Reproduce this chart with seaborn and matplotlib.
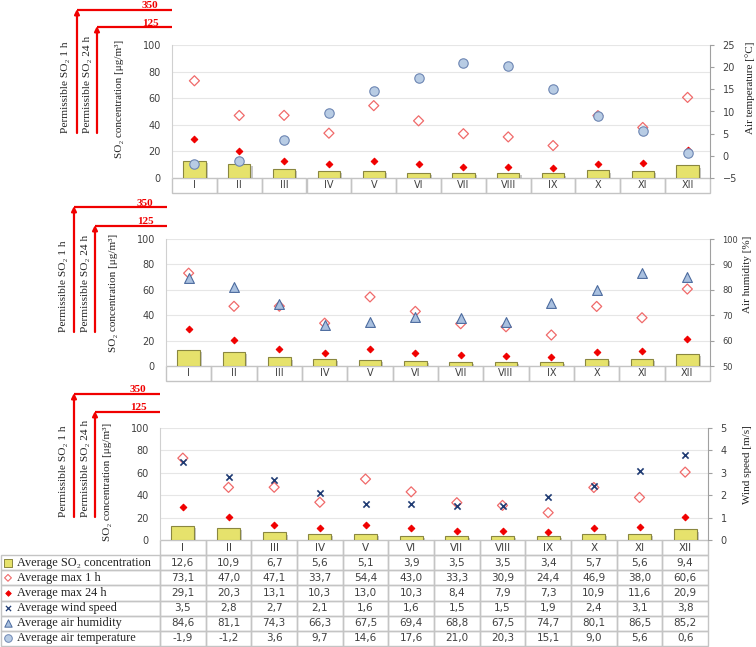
import numpy as np
import pandas as pd
import matplotlib.pyplot as plt
import matplotlib.patheffects as pe
from matplotlib.table import Table
import seaborn as sns

# monthly data
months = ['I', 'II', 'III', 'IV', 'V', 'VI', 'VII', 'VIII', 'IX', 'X', 'XI', 'XII']
so2_avg = [12.6, 10.9, 6.7, 5.6, 5.1, 3.9, 3.5, 3.5, 3.4, 5.7, 5.6, 9.4]
max_1h = [73.1, 47.0, 47.1, 33.7, 54.4, 43.0, 33.3, 30.9, 24.4, 46.9, 38.0, 60.6]
max_24h = [29.1, 20.3, 13.1, 10.3, 13.0, 10.3, 8.4, 7.9, 7.3, 10.9, 11.6, 20.9]
wind = [3.5, 2.8, 2.7, 2.1, 1.6, 1.6, 1.5, 1.5, 1.9, 2.4, 3.1, 3.8]
humidity = [84.6, 81.1, 74.3, 66.3, 67.5, 69.4, 68.8, 67.5, 74.7, 80.1, 86.5, 85.2]
temperature = [-1.9, -1.2, 3.6, 9.7, 14.6, 17.6, 21.0, 20.3, 15.1, 9.0, 5.6, 0.6]
limit_1h = 350
limit_24h = 125

row_labels = ['Average SO\u2082 concentration', 'Average max 1 h', 'Average max 24 h',
              'Average wind speed', 'Average air humidity', 'Average air temperature']

sns.set_style('white')
SERIF = ['Liberation Serif', 'DejaVu Serif']
SANS = ['DejaVu Sans']
plt.rcParams['font.family'] = SANS

BAR = '#e6e26c'
BAR_EDGE = '#8a8740'
RED = '#f00000'
RED_LIGHT = '#f06a6a'
BLUE_FACE = '#b8cce4'
BLUE_EDGE = '#6d86b3'
TRI_FACE = '#a9c0df'
TRI_EDGE = '#4c6b9f'
NAVY = '#1f3b73'
CELL = '#c4c4c4'
TXT = '#404040'
DARK = '#222222'

W, H = 756, 647
fig = plt.figure(figsize=(W / 100, H / 100), dpi=100)


def px_axes(l, t, r, b):
    return fig.add_axes([l / W, 1 - b / H, (r - l) / W, (b - t) / H])


met_styles = {
    'temp': dict(marker='o', s=46, color=BLUE_FACE, edgecolor=BLUE_EDGE, linewidth=0.8),
    'hum': dict(marker='^', s=50, color=TRI_FACE, edgecolor=TRI_EDGE, linewidth=0.8),
    'wind': dict(marker='x', s=20, color=NAVY, linewidth=1.2),
}

panels = [
    dict(box=(172, 45, 710, 178), met=temperature, lim=(-5, 25), ticks=range(-5, 26, 5),
         label='Air temperature [\u00b0C]', style='temp', rlx=750, rfs=7,
         arr=(77, 97, 10, 27, 133, 172), txt=(65, 87)),
    dict(box=(166, 239, 710, 366), met=humidity, lim=(50, 100), ticks=range(50, 101, 10),
         label='Air humidity [%]', style='hum', rlx=747, rfs=6,
         arr=(74, 95, 207, 226, 332, 167), txt=(63, 86)),
    dict(box=(160, 428, 708, 540), met=wind, lim=(0, 5), ticks=range(0, 6),
         label='Wind speed [m/s]', style='wind', rlx=747, rfs=7,
         arr=(74, 95, 394, 412, 517, 160), txt=(63, 85)),
]

pos = np.arange(len(months))
axes = []
for p in panels:
    l, t, r, b = p['box']
    ax = px_axes(l, t, r, b)
    sns.barplot(x=months, y=so2_avg, ax=ax, color=BAR, edgecolor=BAR_EDGE,
                linewidth=0.8, width=0.5, saturation=1, zorder=2)
    for patch in ax.patches:
        patch.set_path_effects([pe.SimplePatchShadow(offset=(1.5, -1.5), shadow_rgbFace='#888888', alpha=0.45),
                                pe.Normal()])
    sns.scatterplot(x=pos, y=max_1h, ax=ax, marker='D', s=26, facecolor='none',
                    edgecolor=RED_LIGHT, linewidth=0.9, zorder=4)
    sns.scatterplot(x=pos, y=max_24h, ax=ax, marker='D', s=11, color=RED,
                    edgecolor=RED, linewidth=0.8, zorder=4)
    ax.set_ylim(0, 100)
    ax.set_yticks(range(0, 101, 20))
    ax.set_axisbelow(True)
    ax.grid(axis='y', color='#e6e6e6', lw=0.8)
    ax.tick_params(axis='y', length=0, labelsize=7, labelcolor=TXT, pad=8)
    ax.tick_params(axis='x', length=0, labelbottom=False)
    ax.set_xlabel('')
    ax.set_ylabel('')
    for s in ['top', 'right', 'bottom']:
        ax.spines[s].set_visible(False)
    ax.spines['left'].set_color('#d0d0d0')

    ax2 = ax.twinx()
    sns.scatterplot(x=pos, y=p['met'], ax=ax2, zorder=5, **met_styles[p['style']])
    ax2.set_ylim(p['lim'])
    ax2.set_yticks(list(p['ticks']))
    ax2.tick_params(axis='y', length=3, color='#a0a0a0', labelsize=p['rfs'], labelcolor=TXT, pad=6)
    for s in ['top', 'left', 'bottom']:
        ax2.spines[s].set_visible(False)
    ax2.spines['right'].set_color('#a0a0a0')
    ax2.set_ylabel('')
    ax.set_xlim(-0.5, len(months) - 0.5)
    axes.append(ax)

# month rows below the first two panels
for ax, p in zip(axes[:2], panels[:2]):
    l, t, r, b = p['box']
    hh = 15 / (b - t)
    tbl = Table(ax, bbox=[0, -hh, 1, hh])
    for j, m in enumerate(months):
        c = tbl.add_cell(0, j, width=1, height=1, text=m, loc='center',
                         edgecolor=CELL, facecolor='none')
        c.get_text().set_color(TXT)
    tbl.auto_set_font_size(False)
    tbl.set_fontsize(7)
    ax.add_table(tbl)

# data table under the third panel
ax3 = axes[2]
l, t, r, b = panels[2]['box']
tab_left, tab_bottom = 1, 646
label_w = l - tab_left
col_w = (r - l) / len(months)
tbl = Table(ax3, bbox=[(tab_left - l) / (r - l), -(tab_bottom - b) / (b - t),
                       (r - tab_left) / (r - l), (tab_bottom - b) / (b - t)])
series = [so2_avg, max_1h, max_24h, wind, humidity, temperature]
c = tbl.add_cell(0, 0, width=label_w, height=1, text='', facecolor='none')
c.visible_edges = ''
for j, m in enumerate(months):
    c = tbl.add_cell(0, j + 1, width=col_w, height=1, text=m, loc='center',
                     edgecolor=CELL, facecolor='none')
for i, (lab, vals) in enumerate(zip(row_labels, series)):
    c = tbl.add_cell(i + 1, 0, width=label_w, height=1, text=lab, loc='left',
                     edgecolor=CELL, facecolor='none')
    for j, v in enumerate(vals):
        c = tbl.add_cell(i + 1, j + 1, width=col_w, height=1,
                         text=f'{v:.1f}'.replace('.', ','), loc='center',
                         edgecolor=CELL, facecolor='none')
tbl.auto_set_font_size(False)
tbl.set_fontsize(7.5)
for (ri, ci), c in tbl.get_celld().items():
    if ci == 0 and ri > 0:
        c.get_text().set_fontfamily(SERIF)
        c.get_text().set_fontsize(8.8)
        c.get_text().set_color(DARK)
    else:
        c.get_text().set_color(TXT)
ax3.add_table(tbl)

# overlay in pixel coordinates for annotations
ov = fig.add_axes([0, 0, 1, 1], zorder=10)
ov.set_xlim(0, W)
ov.set_ylim(H, 0)
ov.axis('off')

for p in panels:
    l, t, r, b = p['box']
    x1, x24, y350, y125, ybot, xend = p['arr']
    for x, y, val in [(x1, y350, limit_1h), (x24, y125, limit_24h)]:
        ov.annotate('', xy=(x, y - 1), xytext=(x, ybot),
                    arrowprops=dict(arrowstyle='-|>', color=RED, lw=1.6,
                                    mutation_scale=7, shrinkA=0, shrinkB=0))
        ov.plot([x, xend], [y, y], color=RED, lw=1.6, solid_capstyle='butt')
        ov.text(xend - 22, y - 1.5, str(val), ha='center', va='baseline', color=RED,
                fontweight='bold', fontsize=8, family=SERIF)
    tx1, tx24 = p['txt']
    ov.text(tx1, ybot, 'Permissible SO\u2082 1 h', rotation=90, ha='center', va='bottom',
            fontsize=8.2, family=SERIF, color=DARK)
    ov.text(tx24, ybot, 'Permissible SO\u2082 24 h', rotation=90, ha='center', va='bottom',
            fontsize=8.2, family=SERIF, color=DARK)
    ov.text(l - 52, t - 5, 'SO\u2082 concentration [\u03bcg/m\u00b3]', rotation=90,
            ha='center', va='top', fontsize=8, family=SERIF, color=DARK)
    ov.text(p['rlx'], t - 3, p['label'], rotation=90, ha='center', va='top',
            fontsize=8, family=SERIF, color=DARK)

# legend keys inside the table label column
row_h = (tab_bottom - b) / (len(row_labels) + 1)
key_x = 8
key_y = [b + row_h * (i + 1.5) for i in range(len(row_labels))]
ov.scatter([key_x], [key_y[0]], marker='s', s=30, color=BAR, edgecolor=BAR_EDGE, linewidth=0.7)
ov.scatter([key_x], [key_y[1]], marker='D', s=12, facecolor='none', edgecolor=RED_LIGHT, linewidth=0.8)
ov.scatter([key_x], [key_y[2]], marker='D', s=8, color=RED, edgecolor=RED, linewidth=0.6)
ov.scatter([key_x], [key_y[3]], marker='x', s=14, color=NAVY, linewidth=0.9)
ov.scatter([key_x], [key_y[4]], marker='^', s=28, color=TRI_FACE, edgecolor=TRI_EDGE, linewidth=0.7)
ov.scatter([key_x], [key_y[5]], marker='o', s=30, color=BLUE_FACE, edgecolor=BLUE_EDGE, linewidth=0.7)

fig.savefig('out.png', dpi=100)
